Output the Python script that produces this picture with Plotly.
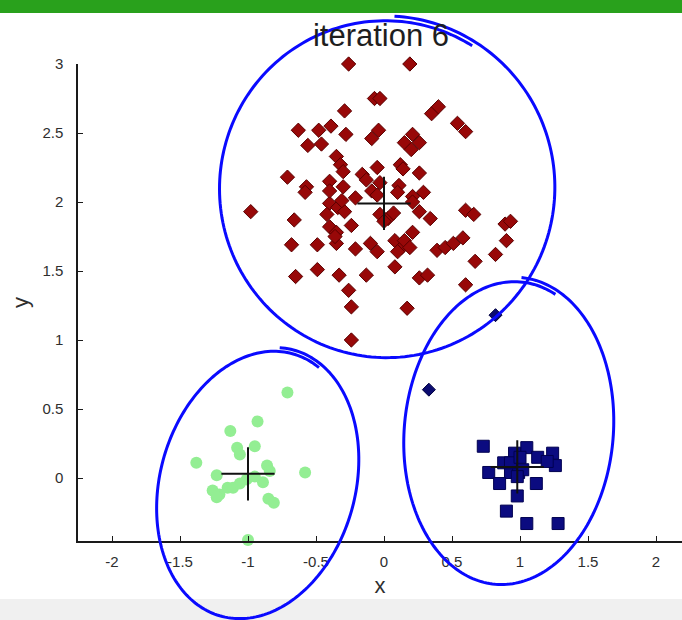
import numpy as np
import plotly.graph_objects as go

# ---------------- data ----------------
red_x = [-0.26, 0.19, -0.07, -0.03, -0.29, 0.35, 0.40, 0.54, 0.60, -0.63,
         -0.48, -0.39, -0.56, -0.46, -0.28, -0.09, -0.04, 0.15, 0.21, 0.26,
         0.20, -0.35, -0.32, -0.30, 0.12, 0.14, 0.26, -0.05, -0.16, -0.13,
         -0.71, -0.40, -0.57, -0.30, -0.03, 0.11, -0.09, 0.29, 0.21, -0.98,
         -0.40, -0.34, -0.29, -0.21, -0.42, -0.40, -0.35, -0.24, -0.31, -0.58,
         -0.40, -0.05, 0.10, 0.21, 0.26, 0.34, -0.03, 0.03, 0.07, 0.00,
         0.60, 0.66, 0.89, 0.93, 0.90, -0.66, 0.21, -0.68, -0.49, -0.35,
         -0.21, -0.10, -0.05, 0.08, 0.13, 0.15, 0.19, 0.10, 0.39, 0.45,
         0.51, 0.58, 0.67, 0.82, 0.08, 0.26, 0.32, 0.60, -0.49, -0.33,
         -0.13, -0.65, -0.26, -0.24, 0.17, -0.24, -0.36]
red_y = [3.00, 3.00, 2.75, 2.75, 2.66, 2.64, 2.69, 2.57, 2.51, 2.52,
         2.52, 2.55, 2.41, 2.42, 2.49, 2.46, 2.52, 2.43, 2.49, 2.43,
         2.38, 2.33, 2.27, 2.22, 2.27, 2.24, 2.21, 2.25, 2.20, 2.16,
         2.18, 2.15, 2.11, 2.11, 2.14, 2.12, 2.08, 2.07, 2.04, 1.93,
         1.99, 1.96, 1.93, 2.03, 1.91, 1.82, 1.78, 1.83, 2.01, 2.07,
         2.08, 2.05, 2.07, 2.00, 1.93, 1.88, 1.91, 1.88, 1.92, 1.86,
         1.94, 1.91, 1.84, 1.86, 1.72, 1.87, 1.78, 1.69, 1.69, 1.70,
         1.66, 1.70, 1.64, 1.72, 1.67, 1.72, 1.67, 1.64, 1.65, 1.67,
         1.70, 1.74, 1.57, 1.62, 1.53, 1.45, 1.47, 1.40, 1.51, 1.47,
         1.47, 1.46, 1.36, 1.24, 1.23, 1.00, 1.75]

green_x = [-0.71, -0.93, -1.13, -1.08, -1.06, -0.95, -1.38, -1.23, -0.86, -0.84,
           -0.58, -0.89, -1.26, -1.21, -1.15, -1.11, -1.06, -1.01, -1.23, -0.85,
           -0.81, -0.95, -1.00]
green_y = [0.62, 0.41, 0.34, 0.22, 0.17, 0.23, 0.11, 0.02, 0.09, 0.05,
           0.04, -0.03, -0.09, -0.12, -0.07, -0.07, -0.04, -0.01, -0.14, -0.15,
           -0.18, 0.01, -0.45]

blue_sq_x = [0.73, 1.05, 0.96, 1.13, 1.24, 1.26, 1.20, 0.88, 0.77, 0.93,
             0.99, 1.02, 0.85, 0.98, 1.12, 0.98, 0.90, 1.05, 1.28, 0.93, 1.00]
blue_sq_y = [0.23, 0.22, 0.18, 0.15, 0.18, 0.09, 0.12, 0.11, 0.04, 0.04,
             0.04, 0.06, -0.04, 0.01, -0.04, -0.13, -0.24, -0.33, -0.33, 0.11, 0.15]

blue_dm_x = [0.82, 0.33]
blue_dm_y = [1.18, 0.64]

centroid_x = [0.00, -1.00, 0.98]
centroid_y = [1.99, 0.03, 0.08]

x_tick_vals = [-2, -1.5, -1, -0.5, 0, 0.5, 1, 1.5, 2]
x_tick_text = ["-2", "-1.5", "-1", "-0.5", "0", "0.5", "1", "1.5", "2"]
y_tick_vals = [0, 0.5, 1, 1.5, 2, 2.5, 3]
y_tick_text = ["0", "0.5", "1", "1.5", "2", "2.5", "3"]

title_text = "iteration 6"

# ---------------- layout geometry ----------------
W, H = 682, 620
L, R, T, B = 78, 0, 64, 79
PW, PH = W - L - R, H - T - B
X_RANGE = [-2.25, -2.25 + PW / 136.0]
Y_RANGE = [3 - PH / 138.0, 3]


def to_paper(px, py):
    return (px - L) / PW, (H - B - py) / PH


def stroke_path(cx, cy, ax, ay, rot, start, sweep, grow, n=240):
    t = np.linspace(0, sweep, n)
    ang = start + t
    k = 1 + grow * t / sweep
    ex = ax * np.sin(ang) * k
    ey = -ay * np.cos(ang) * k
    r = np.radians(rot)
    px = cx + ex * np.cos(r) - ey * np.sin(r)
    py = cy + ex * np.sin(r) + ey * np.cos(r)
    pts = [to_paper(a, b) for a, b in zip(px, py)]
    return "M " + " L ".join(f"{a:.5f},{b:.5f}" for a, b in pts)


FONT = "Liberation Sans, Arial, sans-serif"

fig = go.Figure()

fig.add_trace(go.Scatter(
    x=red_x, y=red_y, mode="markers", cliponaxis=False,
    marker=dict(symbol="diamond", size=11, color="#980808",
                line=dict(color="#5a0000", width=1))))
fig.add_trace(go.Scatter(
    x=green_x, y=green_y, mode="markers", cliponaxis=False,
    marker=dict(symbol="circle", size=12, color="#93ee93",
                line=dict(width=0))))
fig.add_trace(go.Scatter(
    x=blue_sq_x, y=blue_sq_y, mode="markers", cliponaxis=False,
    marker=dict(symbol="square", size=12, color="#0b0b80",
                line=dict(color="#000050", width=1))))
fig.add_trace(go.Scatter(
    x=blue_dm_x, y=blue_dm_y, mode="markers", cliponaxis=False,
    marker=dict(symbol="diamond", size=10, color="#0b0b70",
                line=dict(color="#000040", width=1))))
fig.add_trace(go.Scatter(
    x=centroid_x, y=centroid_y, mode="markers", cliponaxis=False,
    marker=dict(symbol="cross-thin", size=38,
                line=dict(color="#111111", width=2))))

shapes = []
# green banner at the top and grey strip at the bottom
x0, y0 = to_paper(0, 0)
x1, y1 = to_paper(W, 13)
shapes.append(dict(type="rect", xref="paper", yref="paper", x0=x0, y0=y1, x1=x1, y1=y0,
                   fillcolor="#29a11c", line=dict(width=0), layer="below"))
x0, y0 = to_paper(0, 599)
x1, y1 = to_paper(W, H)
shapes.append(dict(type="rect", xref="paper", yref="paper", x0=x0, y0=y1, x1=x1, y1=y0,
                   fillcolor="#f0f0f0", line=dict(width=0), layer="below"))

# hand-drawn blue loops
loops = [
    (386, 188, 170, 172, 0, 0.05, 2 * np.pi + 0.5, -0.03),
    (257, 484, 99, 139, 15.6, -0.15, 2 * np.pi + 0.45, -0.03),
    (508, 432, 106, 155, 5, 0.0, 2 * np.pi + 0.35, -0.03),
]
for cx, cy, ax, ay, rot, st, sw, gr in loops:
    shapes.append(dict(type="path", xref="paper", yref="paper",
                       path=stroke_path(cx, cy, ax, ay, rot, st, sw, gr),
                       line=dict(color="#0a0aff", width=3), layer="above"))

axis_common = dict(
    showgrid=False, zeroline=False, showline=True, linecolor="#1a1a1a", linewidth=1.5,
    ticks="inside", ticklen=5, tickwidth=1, tickcolor="#1a1a1a",
    tickfont=dict(family=FONT, size=15, color="#2e2e2e"),
    mirror=False,
)

fig.update_layout(
    width=W, height=H,
    margin=dict(l=L, r=R, t=T, b=B, pad=0),
    paper_bgcolor="white", plot_bgcolor="white",
    showlegend=False,
    shapes=shapes,
    title=dict(text=title_text, x=381 / W, xanchor="center", xref="container",
               y=1 - 35 / H, yanchor="middle", yref="container",
               font=dict(family=FONT, size=31, color="#1e1e1e")),
    xaxis=dict(range=X_RANGE, tickvals=x_tick_vals, ticktext=x_tick_text,
               ticklabelstandoff=6,
               title=dict(text="x", standoff=9,
                          font=dict(family=FONT, size=22, color="#2e2e2e")),
               **axis_common),
    yaxis=dict(range=Y_RANGE, tickvals=y_tick_vals, ticktext=y_tick_text,
               ticklabelstandoff=10,
               title=dict(text="y", standoff=8,
                          font=dict(family=FONT, size=22, color="#2e2e2e")),
               **axis_common),
)

fig.write_html("out.html")
